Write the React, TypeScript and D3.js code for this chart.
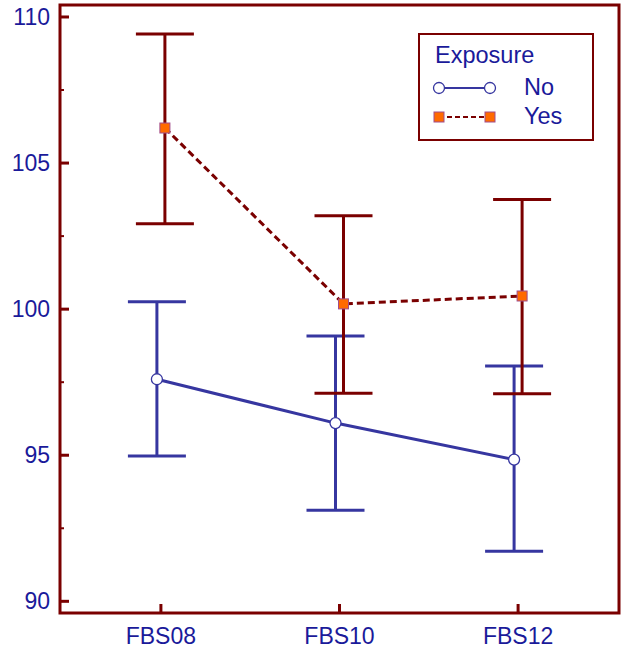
import React from 'react';
import * as d3 from 'd3';

const categories = ['FBS08', 'FBS10', 'FBS12'];
const noMean = [97.6, 96.1, 94.85];
const noLow = [94.97, 93.12, 91.71];
const noHigh = [100.25, 99.08, 98.05];
const yesMean = [106.2, 100.18, 100.45];
const yesLow = [102.92, 97.12, 97.1];
const yesHigh = [109.42, 103.2, 103.75];
const yTicks = [90, 95, 100, 105, 110];
const yMinorTicks = [92.5, 97.5, 102.5, 107.5];

const width = 623;
const height = 649;
const frame = { left: 60, right: 619, top: 5, bottom: 613 };
const blue = '#3636a0';
const red = '#7a0000';
const textColor = '#1a1a9a';
const font = 'Liberation Sans, Arial, sans-serif';

const App = () => {
    const x = d3.scalePoint<string>()
        .domain(categories)
        .range([frame.left, frame.right])
        .padding(0.565);

    const y = d3.scaleLinear()
        .domain([89.6, 110.41])
        .range([frame.bottom, frame.top]);

    const series = [
        { key: 'No', mean: noMean, low: noLow, high: noHigh, color: blue, dx: -4, dash: undefined },
        { key: 'Yes', mean: yesMean, low: yesLow, high: yesHigh, color: red, dx: 4, dash: '7,4' },
    ];

    const line = d3.line<[number, number]>().x(d => d[0]).y(d => d[1]);
    const capHalf = 29;

    return (
        <div style={{ position: 'absolute', left: 0, top: 0 }}>
            <svg width={width} height={height} style={{ display: 'block' }}>
                <rect x={0} y={0} width={width} height={height} fill="white" />

                {/* error bars */}
                {series.map(s => (
                    <g key={s.key + '-err'} stroke={s.color} strokeWidth={3} fill="none">
                        {categories.map((c, i) => {
                            const cx = (x(c) as number) + s.dx;
                            return (
                                <g key={c}>
                                    <line x1={cx} x2={cx} y1={y(s.low[i])} y2={y(s.high[i])} />
                                    <line x1={cx - capHalf} x2={cx + capHalf} y1={y(s.low[i])} y2={y(s.low[i])} />
                                    <line x1={cx - capHalf} x2={cx + capHalf} y1={y(s.high[i])} y2={y(s.high[i])} />
                                </g>
                            );
                        })}
                    </g>
                ))}

                {/* mean lines */}
                {series.map(s => (
                    <path
                        key={s.key + '-line'}
                        d={line(categories.map((c, i) => [(x(c) as number) + s.dx, y(s.mean[i])])) || ''}
                        stroke={s.color}
                        strokeWidth={3}
                        strokeDasharray={s.dash}
                        fill="none"
                    />
                ))}

                {/* markers */}
                {categories.map((c, i) => (
                    <circle key={'no' + c} cx={(x(c) as number) - 4} cy={y(noMean[i])} r={5.5}
                        fill="white" stroke={blue} strokeWidth={1.3} />
                ))}
                {categories.map((c, i) => (
                    <rect key={'yes' + c} x={(x(c) as number) + 4 - 5} y={y(yesMean[i]) - 5} width={10} height={10}
                        fill="#ff6a00" stroke="#a04c8c" strokeWidth={1} />
                ))}

                {/* frame */}
                <rect x={frame.left} y={frame.top} width={frame.right - frame.left} height={frame.bottom - frame.top}
                    fill="none" stroke={red} strokeWidth={3} />

                {/* y ticks */}
                {yTicks.map(t => (
                    <g key={'yt' + t}>
                        <line x1={frame.left} x2={frame.left + 9} y1={y(t)} y2={y(t)} stroke={red} strokeWidth={3} />
                        <text x={50} y={y(t)} textAnchor="end" dominantBaseline="central"
                            fontFamily={font} fontSize={23} fill={textColor}>{t}</text>
                    </g>
                ))}
                {yMinorTicks.map(t => (
                    <line key={'ym' + t} x1={frame.left} x2={frame.left + 4} y1={y(t)} y2={y(t)} stroke={red} strokeWidth={2} />
                ))}

                {/* x ticks */}
                {categories.map(c => (
                    <g key={'xt' + c}>
                        <line x1={x(c)} x2={x(c)} y1={frame.bottom} y2={frame.bottom - 9} stroke={red} strokeWidth={3} />
                        <text x={x(c)} y={644} textAnchor="middle" fontFamily={font} fontSize={23} fill={textColor}>{c}</text>
                    </g>
                ))}

                {/* legend */}
                <g>
                    <rect x={419} y={34} width={174} height={106} fill="white" stroke={red} strokeWidth={2} />
                    <text x={435} y={63} fontFamily={font} fontSize={23.5} fill={textColor}>Exposure</text>
                    <line x1={439} x2={490} y1={88} y2={88} stroke={blue} strokeWidth={2} />
                    <circle cx={439} cy={88} r={5.5} fill="white" stroke={blue} strokeWidth={1.3} />
                    <circle cx={490} cy={88} r={5.5} fill="white" stroke={blue} strokeWidth={1.3} />
                    <text x={524} y={95} fontFamily={font} fontSize={23.5} fill={textColor}>No</text>
                    <line x1={439} x2={490} y1={117} y2={117} stroke={red} strokeWidth={2} strokeDasharray="5,3" />
                    <rect x={434} y={112} width={10} height={10} fill="#ff6a00" stroke="#a04c8c" strokeWidth={1} />
                    <rect x={485} y={112} width={10} height={10} fill="#ff6a00" stroke="#a04c8c" strokeWidth={1} />
                    <text x={524} y={124} fontFamily={font} fontSize={23.5} fill={textColor}>Yes</text>
                </g>
            </svg>
        </div>
    );
};

export default App;
